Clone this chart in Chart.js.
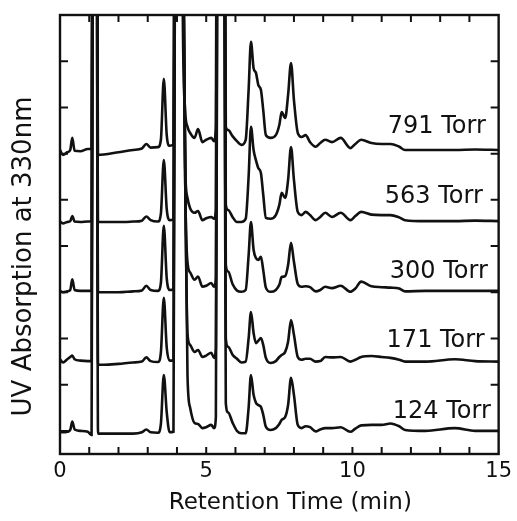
<!DOCTYPE html>
<html>
<head>
<meta charset="utf-8">
<script src="https://cdn.jsdelivr.net/npm/chart.js@4.4.1/dist/chart.umd.min.js"></script>
<style>
  html, body { margin: 0; padding: 0; background: #fff; }
</style>
</head>
<body>
<canvas id="chromatogram" width="517" height="521"></canvas>
<script>
// retention time grid (min), shared by all five traces
const retentionTime = [
  0, 0.1, 0.25, 0.35, 0.42, 0.5, 0.7, 0.95, 1.08, 1.12, 1.2, 1.26,
  1.3, 1.5, 2.0, 2.5, 2.8, 2.95, 3.1, 3.35, 3.45, 3.55, 3.65, 3.75,
  3.88, 3.93, 4.0, 4.15, 4.2, 4.28, 4.36, 4.45, 4.6, 4.72, 4.87, 5.0,
  5.17, 5.27, 5.33, 5.38, 5.5, 5.62, 5.67, 5.75, 5.9, 6.05, 6.2, 6.35,
  6.45, 6.53, 6.62, 6.7, 6.78, 6.87, 6.95, 7.04, 7.2, 7.38, 7.5, 7.58,
  7.7, 7.8, 7.9, 8.0, 8.13, 8.26, 8.4, 8.55, 8.74, 8.9, 9.07, 9.3,
  9.6, 9.93, 10.1, 10.3, 10.65, 11.0, 11.3, 11.6, 11.8, 12.5, 13.5, 14.2, 15
];

// UV absorbance (arbitrary units) above each trace's own offset
const torr124 = [
  -0.2, -0.3, -0.2, 0.2, 2.0, 0.3, 0.0, -0.2, -0.9, 100, 130, 100,
  -0.6, -0.6, -0.6, -0.6, -0.3, 0.3, -0.3, -0.4, 1.5, 12.1, 4.0, -0.3,
  -0.2, 100, 130, 120, 110, 60, 12, 5.0, 1.7, 1.5, 0.6, 0.8,
  1.3, 0.6, 3, 100, 130, 100, 6.0, 4.0, 1.8, 0.0, -0.5, -0.5,
  5, 12.1, 7.8, 6.1, 5.6, 5.2, 3.5, 0.9, 0.2, 0.6, 1.5, 2.4,
  3.0, 5.6, 11.5, 7.8, 1.3, 0.6, 1.0, 0.8, -0.1, 0.3, 0.6, 0.6,
  0.8, -0.2, 0.5, 1.2, 1.3, 1.3, 1.6, 1.0, 0.2, 0.0, 0.6, 0.0, 0.0
];
const torr171 = [
  0.5, -0.2, 0.5, 1.0, 1.3, 0.5, 0.2, 0.1, 0.1, 100, 130, 100,
  -0.7, -0.7, -0.5, -0.2, 0.0, 0.9, 0.1, -0.1, 2.0, 13.8, 3.0, 0.2,
  0.3, 100, 130, 120, 100, 40, 6.0, 3.6, 2.1, 2.5, 1.0, 1.3,
  1.9, 0.8, 3, 100, 130, 100, 5.0, 3.2, 1.5, 0.6, -0.2, 0.0,
  5, 10.7, 6.2, 4.0, 4.5, 5.1, 3.6, 0.8, -0.3, 0.1, 1.0, 1.4,
  2.1, 4.3, 9.0, 5.8, 1.0, 0.4, 0.6, 0.6, 0.0, 0.1, 1.0, 0.9,
  1.0, 0.0, 0.4, 1.0, 1.2, 1.0, 0.8, 0.4, 0.0, 0.0, 0.5, 0.1, 0.0
];
const torr300 = [
  0.3, 0.0, 0.2, 0.5, 2.8, 0.5, 0.3, 0.3, 0.3, 100, 130, 100,
  0.0, 0.0, 0.0, 0.2, 0.4, 1.4, 0.5, 0.3, 2.0, 14.4, 3.0, 0.5,
  0.6, 100, 130, 120, 100, 25, 6.5, 4.3, 2.7, 3.4, 1.2, 1.4,
  2.0, 1.2, 3, 100, 130, 100, 6.0, 4.5, 1.8, 0.4, 0.1, 0.5,
  8, 15.2, 9.2, 7.4, 7.0, 7.7, 4.8, 1.0, 0.1, 0.5, 1.6, 3.3,
  3.5, 5.9, 10.7, 6.6, 1.8, 1.2, 1.3, 1.1, 0.2, 0.5, 1.2, 0.9,
  1.4, 0.1, 0.8, 2.3, 1.3, 1.1, 1.0, 0.8, 0.2, 0.3, 0.3, 0.3, 0.3
];
const torr563 = [
  0.3, -0.1, 0.2, 0.4, 1.5, 0.3, 0.2, 0.3, 0.3, 100, 130, 100,
  0.2, 0.2, 0.2, 0.3, 0.5, 1.4, 0.6, 0.3, 2.0, 13.6, 3.0, 0.6,
  0.8, 100, 130, 100, 60, 12, 5.4, 3.2, 2.2, 2.6, 0.6, 1.0,
  1.3, 0.9, 3, 100, 130, 100, 4.0, 2.8, 1.3, 0.2, 0.2, 0.9,
  10, 20.8, 15.8, 13.6, 11.9, 10.8, 6.1, 1.1, 0.9, 1.7, 3.9, 6.5,
  5.4, 9.3, 16.4, 9.3, 2.4, 1.7, 2.4, 1.7, 0.6, 1.3, 2.2, 1.3,
  2.2, 0.6, 1.5, 2.4, 1.8, 1.7, 1.7, 1.2, 0.6, 0.4, 0.4, 0.5, 0.4
];
const torr791 = [
  0.8, -0.3, 0.3, 0.8, 3.4, 0.6, 0.5, 1.0, 1.0, 100, 130, 100,
  -0.3, -0.2, 0.3, 0.8, 1.1, 2.1, 1.3, 1.4, 3.0, 16.2, 4.0, 1.7,
  2.0, 100, 130, 100, 30, 9.4, 5.8, 4.5, 3.4, 5.3, 2.5, 3.0,
  3.4, 2.7, 6, 100, 130, 100, 5.8, 5.1, 3.8, 2.7, 1.9, 3.0,
  13.8, 24.2, 18.5, 17.5, 14.9, 13.8, 9.4, 4.0, 3.4, 4.0, 6.2, 9.0,
  7.7, 12.7, 19.6, 11.6, 4.5, 3.6, 4.0, 2.5, 1.5, 2.3, 3.0, 2.5,
  3.4, 1.2, 2.1, 3.0, 2.3, 2.1, 2.1, 1.5, 0.8, 0.8, 0.8, 0.9, 0.8
];

const traceNames = ["124 Torr", "171 Torr", "300 Torr", "563 Torr", "791 Torr"];
const traceOffsets = [0, 15, 30, 45, 60];
const xTickLabels = [0, 5, 10, 15];
const xTitle = "Retention Time (min)";
const yTitle = "UV Absorption at 330nm";

const traces = [torr124, torr171, torr300, torr563, torr791];

// where the pressure labels sit: right edge (min) and baseline lift above the trace
const labelRight = [14.73, 14.52, 14.63, 14.46, 14.56];
const labelLift = [2.8, 3.2, 3.1, 4.35, 4.5];

const ink = "#111";
const font = "DejaVu Sans";

const framePlugin = {
  id: "frame",
  afterDatasetsDraw(chart) {
    const { ctx, chartArea: a, scales: { x, y } } = chart;
    ctx.save();
    ctx.strokeStyle = ink;
    ctx.lineWidth = 2.4;
    ctx.strokeRect(a.left, a.top, a.right - a.left, a.bottom - a.top);

    // inward ticks on all four sides
    ctx.lineWidth = 2;
    ctx.beginPath();
    x.ticks.forEach(t => {
      if (t.value <= x.min || t.value >= x.max) return;
      const px = x.getPixelForValue(t.value);
      ctx.moveTo(px, a.bottom); ctx.lineTo(px, a.bottom - 7);
      ctx.moveTo(px, a.top); ctx.lineTo(px, a.top + 7);
    });
    y.ticks.forEach(t => {
      if (t.value < 0 || t.value >= y.max) return;
      const py = y.getPixelForValue(t.value);
      ctx.moveTo(a.left, py); ctx.lineTo(a.left + 8, py);
      ctx.moveTo(a.right, py); ctx.lineTo(a.right - 8, py);
    });
    ctx.stroke();

    ctx.fillStyle = ink;
    ctx.font = `24px "${font}"`;
    ctx.textAlign = "right";
    ctx.textBaseline = "alphabetic";
    traceNames.forEach((name, i) => {
      ctx.fillText(name, x.getPixelForValue(labelRight[i]), y.getPixelForValue(traceOffsets[i] + labelLift[i]));
    });

    // axis titles, placed a little off-centre like the original figure
    ctx.textAlign = "center";
    ctx.textBaseline = "middle";
    ctx.font = `23px "${font}"`;
    ctx.fillText(xTitle, (a.left + a.right) / 2 + 11, a.bottom + 49);
    ctx.save();
    ctx.translate(24, (a.top + a.bottom) / 2 + 22);
    ctx.rotate(-Math.PI / 2);
    ctx.font = `26px "${font}"`;
    ctx.fillText(yTitle, 0, 0);
    ctx.restore();
    ctx.restore();
  }
};

const ctx = document.getElementById("chromatogram").getContext("2d");
new Chart(ctx, {
  type: "line",
  data: {
    datasets: traces.map((vals, i) => ({
      label: traceNames[i],
      data: retentionTime.map((t, j) => ({ x: t, y: traceOffsets[i] + vals[j] })),
      borderColor: ink,
      borderWidth: 2.6,
      pointRadius: 0,
      cubicInterpolationMode: "monotone",
      fill: false,
    })),
  },
  options: {
    responsive: false,
    animation: false,
    devicePixelRatio: 1,
    layout: { padding: { top: 15, right: 17, bottom: 0, left: 0 } },
    plugins: { legend: { display: false }, tooltip: { enabled: false } },
    scales: {
      x: {
        type: "linear",
        min: 0,
        max: 15,
        grid: { display: false, drawTicks: false },
        border: { display: false },
        ticks: {
          stepSize: 1,
          autoSkip: false,
          maxRotation: 0,
          padding: 5,
          color: ink,
          font: { family: font, size: 21 },
          callback: v => xTickLabels.includes(v) ? String(v) : "",
        },
        afterFit: s => { s.height = 67; },
      },
      y: {
        min: -5,
        max: 90,
        grid: { display: false, drawTicks: false },
        border: { display: false },
        ticks: { display: false, stepSize: 10 },
        afterFit: s => { s.width = 60; },
      },
    },
  },
  plugins: [framePlugin],
});
</script>
</body>
</html>
